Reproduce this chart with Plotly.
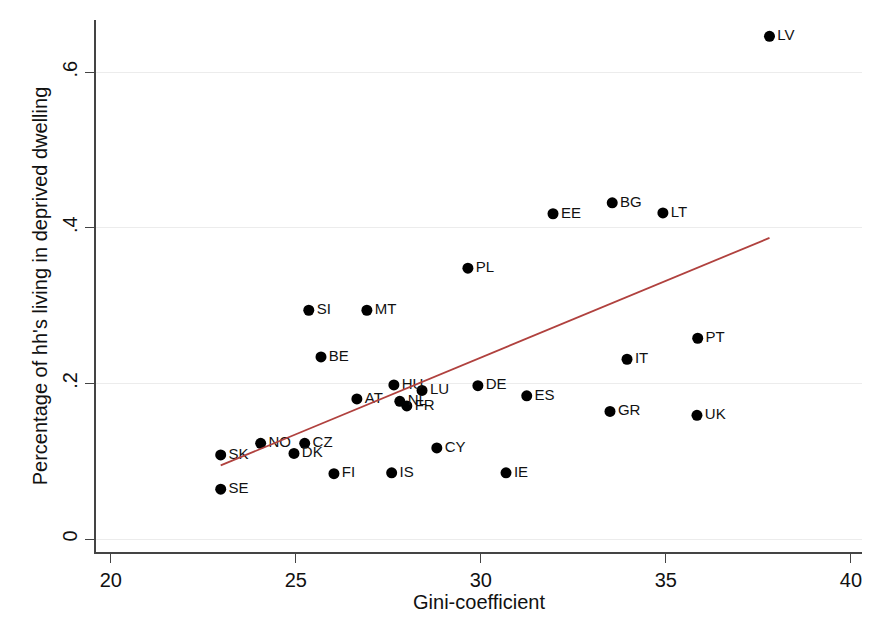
import numpy as np
import plotly.graph_objects as go

countries = ["LV", "BG", "EE", "LT", "PL", "SI", "MT", "BE", "PT", "IT",
             "HU", "LU", "DE", "ES", "AT", "NL", "FR", "GR", "UK", "CY",
             "IE", "IS", "FI", "NO", "CZ", "DK", "SK", "SE"]
gini = [37.8, 33.55, 31.95, 34.92, 29.65, 25.35, 26.92, 25.68, 35.86, 33.95,
        27.65, 28.41, 29.92, 31.24, 26.65, 27.81, 28.0, 33.49, 35.84, 28.81,
        30.68, 27.59, 26.03, 24.05, 25.24, 24.95, 22.97, 22.97]
deprived = [0.646, 0.432, 0.418, 0.419, 0.348, 0.294, 0.294, 0.234, 0.258, 0.231,
            0.198, 0.191, 0.197, 0.184, 0.180, 0.177, 0.171, 0.164, 0.159, 0.117,
            0.085, 0.085, 0.084, 0.123, 0.123, 0.110, 0.108, 0.064]

x_ticks = [20, 25, 30, 35, 40]
y_ticks = [0, 0.2, 0.4, 0.6]
y_tick_text = ["0", ".2", ".4", ".6"]

# linear fit across the observed Gini range
slope, intercept = np.polyfit(gini, deprived, 1)
fit_x = np.array([min(gini), max(gini)])
fit_y = intercept + slope * fit_x

fig = go.Figure()
fig.add_trace(go.Scatter(
    x=gini, y=deprived, mode="markers+text", text=countries,
    textposition="middle right",
    textfont=dict(family="Liberation Sans, Arial, sans-serif", size=15, color="#111"),
    marker=dict(color="black", size=11),
    showlegend=False, cliponaxis=False,
))
fig.add_trace(go.Scatter(
    x=fit_x, y=fit_y, mode="lines",
    line=dict(color="#b0413e", width=1.8),
    showlegend=False,
))

axis_font = dict(family="Liberation Sans, Arial, sans-serif", size=20, color="#111")
fig.update_layout(
    width=874, height=636,
    margin=dict(l=96, r=12, t=20, b=84),
    plot_bgcolor="white", paper_bgcolor="white",
    font=axis_font,
    xaxis=dict(
        range=[19.6, 40.3], tickvals=x_ticks, ticks="outside", ticklen=9,
        tickcolor="#444", showline=True, linecolor="#444", linewidth=1.5,
        showgrid=False, zeroline=False, tickfont=axis_font,
        title=dict(text="Gini-coefficient", font=axis_font, standoff=4),
    ),
    yaxis=dict(
        range=[-0.0167, 0.667], tickvals=y_ticks, ticktext=y_tick_text,
        tickangle=-90, ticks="outside", ticklen=9, tickcolor="#444",
        showline=True, linecolor="#444", linewidth=1.5,
        showgrid=True, gridcolor="#ececec", gridwidth=1, zeroline=False,
        tickfont=axis_font,
        title=dict(text="Percentage of hh's living in deprived dwelling",
                   font=axis_font, standoff=6),
    ),
)

fig.write_html("out.html")
